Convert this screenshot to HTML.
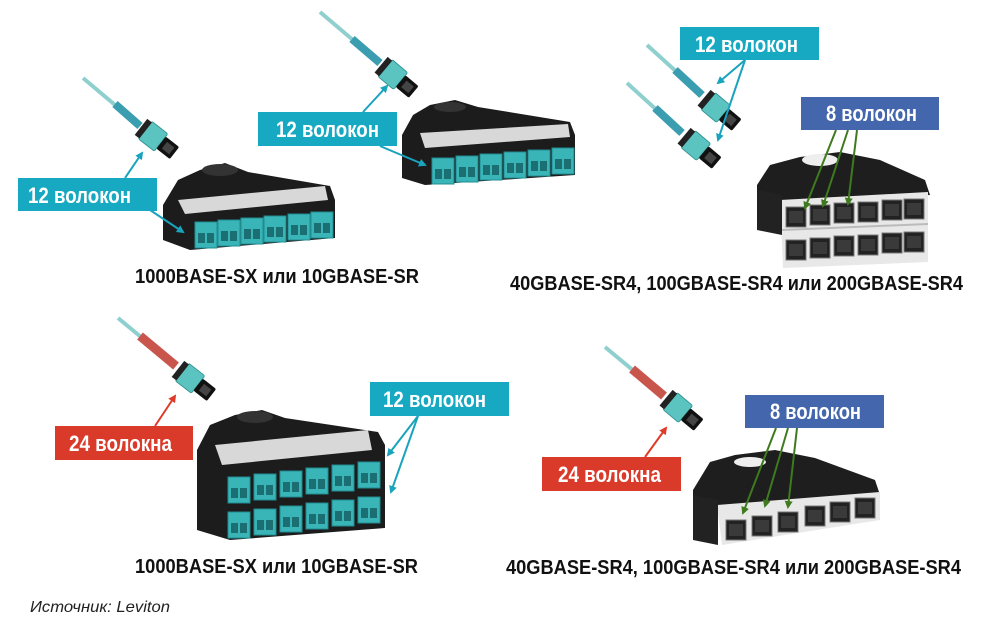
<!DOCTYPE html>
<html><head><meta charset="utf-8"><style>
html,body{margin:0;padding:0;background:#fff}
svg{display:block}
.lb{font-family:"Liberation Sans",sans-serif;font-weight:bold;fill:#fff;font-size:22px}
.cap{font-family:"Liberation Sans",sans-serif;font-weight:bold;fill:#111;font-size:20px}
</style></head><body>
<svg width="1000" height="632" viewBox="0 0 1000 632" xmlns="http://www.w3.org/2000/svg">
<defs>
<marker id="at" markerWidth="8" markerHeight="8" refX="6" refY="4" orient="auto" markerUnits="userSpaceOnUse"><path d="M0,0 L8,4 L0,8 z" fill="#1aa3bd"/></marker>
<marker id="ar" markerWidth="8" markerHeight="8" refX="6" refY="4" orient="auto" markerUnits="userSpaceOnUse"><path d="M0,0 L8,4 L0,8 z" fill="#e03a2a"/></marker>
<marker id="ag" markerWidth="8" markerHeight="8" refX="6" refY="4" orient="auto" markerUnits="userSpaceOnUse"><path d="M0,0 L8,4 L0,8 z" fill="#3f7a1e"/></marker>
<g id="lc"><rect x="0" y="0" width="22" height="26" fill="#3ab5b7" stroke="#1f8c90" stroke-width="1"/><rect x="3" y="11" width="7" height="10" fill="#1b6f73"/><rect x="12" y="11" width="7" height="10" fill="#1b6f73"/></g>
<g id="mtp" transform="scale(0.85)"><rect x="0" y="-13" width="24" height="26" rx="2" fill="#5cc4c0" stroke="#2c8f8f"/><rect x="-6" y="-12" width="7" height="24" fill="#222"/><rect x="24" y="-9" width="20" height="18" rx="2" fill="#111"/><rect x="29" y="-5" width="11" height="10" fill="#444"/></g>
<g id="sq"><rect x="0" y="0" width="20" height="20" fill="#222" stroke="#777"/><rect x="3" y="4" width="14" height="12" fill="#3a3a3a"/></g>
</defs>

<line x1="83" y1="78" x2="140" y2="126" stroke="#8fd0cf" stroke-width="4"/>
<line x1="115" y1="104" x2="140" y2="126" stroke="#3a9db0" stroke-width="8"/>
<use href="#mtp" transform="translate(145,130) rotate(38)"/>
<path d="M178,180 L200,170 L225,163 L248,172 L330,186 L335,200 L335,238 L190,250 L163,240 L163,205 Z" fill="#1c1c1c"/>
<path d="M178,200 L325,186 L328,200 L185,214 Z" fill="#d8d8d8"/>
<ellipse cx="220" cy="170" rx="18" ry="6" fill="#333"/>
<use href="#lc" x="195" y="222"/><use href="#lc" x="218" y="220"/><use href="#lc" x="241" y="218"/><use href="#lc" x="264" y="216"/><use href="#lc" x="288" y="214"/><use href="#lc" x="311" y="212"/>
<line x1="125" y1="178" x2="142" y2="153" stroke="#1aa3bd" stroke-width="2" marker-end="url(#at)"/>
<line x1="150" y1="210" x2="183" y2="232" stroke="#1aa3bd" stroke-width="2" marker-end="url(#at)"/>
<rect x="18" y="178" width="139" height="33" fill="#17a9c2"/>
<text class="lb" x="28" y="203" textLength="103" lengthAdjust="spacingAndGlyphs">12 волокон</text>

<line x1="320" y1="12" x2="380" y2="63" stroke="#8fd0cf" stroke-width="4"/>
<line x1="352" y1="39" x2="380" y2="63" stroke="#3a9db0" stroke-width="8"/>
<use href="#mtp" transform="translate(385,68) rotate(40)"/>
<path d="M413,115 L430,105 L455,100 L478,107 L570,122 L575,135 L575,175 L425,185 L402,178 L402,135 Z" fill="#1c1c1c"/>
<path d="M420,133 L568,124 L570,137 L425,148 Z" fill="#d8d8d8"/>
<ellipse cx="450" cy="107" rx="16" ry="5" fill="#333"/>
<use href="#lc" x="432" y="158"/><use href="#lc" x="456" y="156"/><use href="#lc" x="480" y="154"/><use href="#lc" x="504" y="152"/><use href="#lc" x="528" y="150"/><use href="#lc" x="552" y="148"/>
<line x1="363" y1="112" x2="387" y2="86" stroke="#1aa3bd" stroke-width="2" marker-end="url(#at)"/>
<line x1="380" y1="146" x2="425" y2="165" stroke="#1aa3bd" stroke-width="2" marker-end="url(#at)"/>
<rect x="258" y="112" width="139" height="34" fill="#17a9c2"/>
<text class="lb" x="276" y="137" textLength="103" lengthAdjust="spacingAndGlyphs">12 волокон</text>
<text class="cap" x="135" y="283" textLength="284" lengthAdjust="spacingAndGlyphs">1000BASE-SX или 10GBASE-SR</text>

<line x1="647" y1="45" x2="702" y2="95" stroke="#8fd0cf" stroke-width="4"/>
<line x1="675" y1="70" x2="702" y2="95" stroke="#3a9db0" stroke-width="8"/>
<use href="#mtp" transform="translate(708,101) rotate(40)"/>
<line x1="627" y1="83" x2="682" y2="133" stroke="#8fd0cf" stroke-width="4"/>
<line x1="655" y1="108" x2="682" y2="133" stroke="#3a9db0" stroke-width="8"/>
<use href="#mtp" transform="translate(688,139) rotate(40)"/>
<line x1="745" y1="60" x2="718" y2="83" stroke="#1aa3bd" stroke-width="2" marker-end="url(#at)"/>
<line x1="745" y1="60" x2="718" y2="140" stroke="#1aa3bd" stroke-width="2" marker-end="url(#at)"/>
<rect x="680" y="27" width="139" height="33" fill="#17a9c2"/>
<text class="lb" x="695" y="52" textLength="103" lengthAdjust="spacingAndGlyphs">12 волокон</text>
<path d="M770,165 L800,157 L840,152 L880,160 L925,180 L930,195 L757,205 L757,185 Z" fill="#1e1e1e"/>
<ellipse cx="820" cy="160" rx="18" ry="6" fill="#eee"/>
<path d="M780,200 L928,192 L928,262 L783,268 Z" fill="#e8e8e8"/>
<path d="M757,190 L782,195 L782,235 L757,230 Z" fill="#222"/>
<line x1="782" y1="230" x2="928" y2="224" stroke="#bbb" stroke-width="2"/>
<use href="#sq" x="786" y="207"/><use href="#sq" x="810" y="205"/><use href="#sq" x="834" y="203"/><use href="#sq" x="858" y="202"/><use href="#sq" x="882" y="200"/><use href="#sq" x="904" y="199"/>
<use href="#sq" x="786" y="240"/><use href="#sq" x="810" y="238"/><use href="#sq" x="834" y="236"/><use href="#sq" x="858" y="235"/><use href="#sq" x="882" y="233"/><use href="#sq" x="904" y="232"/>
<line x1="836" y1="130" x2="805" y2="208" stroke="#3f7a1e" stroke-width="2" marker-end="url(#ag)"/>
<line x1="848" y1="130" x2="823" y2="206" stroke="#3f7a1e" stroke-width="2" marker-end="url(#ag)"/>
<line x1="857" y1="130" x2="848" y2="204" stroke="#3f7a1e" stroke-width="2" marker-end="url(#ag)"/>
<rect x="801" y="97" width="138" height="33" fill="#4466ad"/>
<text class="lb" x="826" y="121" textLength="91" lengthAdjust="spacingAndGlyphs">8 волокон</text>
<text class="cap" x="510" y="290" textLength="453" lengthAdjust="spacingAndGlyphs">40GBASE-SR4, 100GBASE-SR4 или 200GBASE-SR4</text>

<line x1="118" y1="318" x2="176" y2="366" stroke="#8fd0cf" stroke-width="4"/>
<line x1="140" y1="336" x2="176" y2="366" stroke="#c9564c" stroke-width="9"/>
<use href="#mtp" transform="translate(182,372) rotate(38)"/>
<path d="M210,425 L235,415 L262,410 L285,418 L378,432 L385,445 L385,528 L230,540 L197,530 L197,450 Z" fill="#1c1c1c"/>
<path d="M215,445 L368,430 L372,450 L222,465 Z" fill="#d8d8d8"/>
<ellipse cx="255" cy="417" rx="18" ry="6" fill="#333"/>
<use href="#lc" x="228" y="477"/><use href="#lc" x="254" y="474"/><use href="#lc" x="280" y="471"/><use href="#lc" x="306" y="468"/><use href="#lc" x="332" y="465"/><use href="#lc" x="358" y="462"/>
<use href="#lc" x="228" y="512"/><use href="#lc" x="254" y="509"/><use href="#lc" x="280" y="506"/><use href="#lc" x="306" y="503"/><use href="#lc" x="332" y="500"/><use href="#lc" x="358" y="497"/>
<line x1="155" y1="426" x2="175" y2="396" stroke="#e03a2a" stroke-width="2" marker-end="url(#ar)"/>
<rect x="55" y="426" width="138" height="34" fill="#da3a29"/>
<text class="lb" x="69" y="451" textLength="103" lengthAdjust="spacingAndGlyphs">24 волокна</text>
<line x1="418" y1="416" x2="388" y2="455" stroke="#1aa3bd" stroke-width="2" marker-end="url(#at)"/>
<line x1="418" y1="416" x2="391" y2="492" stroke="#1aa3bd" stroke-width="2" marker-end="url(#at)"/>
<rect x="370" y="382" width="139" height="34" fill="#17a9c2"/>
<text class="lb" x="383" y="407" textLength="103" lengthAdjust="spacingAndGlyphs">12 волокон</text>
<text class="cap" x="135" y="573" textLength="283" lengthAdjust="spacingAndGlyphs">1000BASE-SX или 10GBASE-SR</text>
<text x="30" y="612" font-family="Liberation Sans, sans-serif" font-style="italic" font-size="16" fill="#222" textLength="140" lengthAdjust="spacingAndGlyphs">Источник: Leviton</text>

<line x1="605" y1="347" x2="664" y2="396" stroke="#8fd0cf" stroke-width="4"/>
<line x1="632" y1="369" x2="664" y2="396" stroke="#c9564c" stroke-width="9"/>
<use href="#mtp" transform="translate(670,401) rotate(40)"/>
<path d="M710,462 L735,455 L775,450 L815,458 L875,480 L880,495 L693,510 L693,490 Z" fill="#1e1e1e"/>
<ellipse cx="750" cy="462" rx="16" ry="5" fill="#eee"/>
<path d="M717,505 L880,492 L880,520 L722,545 Z" fill="#e8e8e8"/>
<path d="M693,495 L718,500 L718,545 L693,540 Z" fill="#222"/>
<use href="#sq" x="726" y="520"/><use href="#sq" x="752" y="516"/><use href="#sq" x="778" y="512"/><use href="#sq" x="805" y="506"/><use href="#sq" x="830" y="502"/><use href="#sq" x="855" y="498"/>
<line x1="776" y1="428" x2="743" y2="513" stroke="#3f7a1e" stroke-width="2" marker-end="url(#ag)"/>
<line x1="788" y1="428" x2="765" y2="506" stroke="#3f7a1e" stroke-width="2" marker-end="url(#ag)"/>
<line x1="797" y1="428" x2="788" y2="507" stroke="#3f7a1e" stroke-width="2" marker-end="url(#ag)"/>
<rect x="745" y="395" width="139" height="33" fill="#4466ad"/>
<text class="lb" x="770" y="419" textLength="91" lengthAdjust="spacingAndGlyphs">8 волокон</text>
<line x1="645" y1="457" x2="666" y2="428" stroke="#e03a2a" stroke-width="2" marker-end="url(#ar)"/>
<rect x="542" y="457" width="139" height="34" fill="#da3a29"/>
<text class="lb" x="558" y="482" textLength="103" lengthAdjust="spacingAndGlyphs">24 волокна</text>
<text class="cap" x="506" y="574" textLength="455" lengthAdjust="spacingAndGlyphs">40GBASE-SR4, 100GBASE-SR4 или 200GBASE-SR4</text>
</svg>
</body></html>
